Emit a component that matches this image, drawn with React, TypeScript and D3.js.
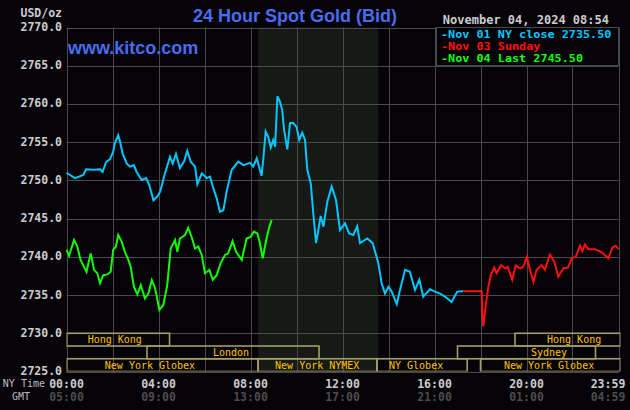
import React from 'react';
import * as d3 from 'd3';

// hours since 00:00 NY time
const closeHours = [0, 0.37, 0.73, 0.85, 1.17, 1.46, 1.57, 1.72, 1.89, 2.03, 2.1, 2.25, 2.33, 2.44, 2.62, 2.76, 2.93, 3.05, 3.27, 3.46, 3.6, 3.78, 3.95, 4.07, 4.28, 4.5, 4.62, 4.76, 4.93, 5.11, 5.25, 5.4, 5.59, 5.69, 5.88, 6.1, 6.24, 6.38, 6.53, 6.67, 6.82, 6.96, 7.18, 7.47, 7.69, 7.98, 8.12, 8.27, 8.48, 8.56, 8.66, 8.77, 8.88, 8.99, 9.07, 9.17, 9.28, 9.38, 9.46, 9.6, 9.72, 9.86, 10.0, 10.12, 10.25, 10.37, 10.47, 10.62, 10.73, 10.85, 10.95, 11.05, 11.17, 11.34, 11.53, 11.72, 11.89, 12.11, 12.28, 12.47, 12.64, 12.76, 13.08, 13.31, 13.56, 13.7, 13.85, 14.0, 14.14, 14.36, 14.5, 14.72, 14.93, 15.15, 15.34, 15.51, 15.8, 16.02, 16.24, 16.45, 16.74, 16.99, 17.25];
const closeValues = [2751.0, 2750.3, 2750.7, 2751.45, 2751.4, 2751.45, 2751.1, 2752.4, 2752.75, 2753.75, 2754.85, 2755.9, 2755.05, 2753.5, 2752.2, 2751.8, 2752.0, 2751.1, 2750.05, 2750.3, 2749.4, 2747.4, 2747.9, 2748.5, 2750.9, 2753.1, 2752.2, 2753.45, 2751.6, 2752.45, 2753.85, 2752.45, 2751.8, 2749.5, 2750.9, 2750.3, 2750.5, 2749.0, 2747.65, 2745.9, 2746.1, 2748.5, 2751.35, 2752.45, 2752.0, 2752.3, 2751.8, 2752.9, 2750.6, 2752.9, 2756.4, 2755.7, 2754.3, 2755.3, 2754.4, 2761.0, 2760.3, 2759.2, 2756.6, 2754.05, 2757.5, 2757.5, 2757.0, 2755.3, 2756.25, 2755.3, 2751.35, 2749.6, 2745.7, 2741.8, 2743.5, 2745.35, 2743.95, 2747.2, 2749.2, 2747.4, 2743.5, 2744.4, 2743.1, 2742.85, 2744.0, 2741.8, 2742.4, 2741.8, 2739.15, 2736.55, 2735.2, 2736.1, 2735.45, 2733.8, 2735.65, 2738.3, 2738.05, 2735.65, 2737.0, 2734.8, 2735.75, 2735.45, 2735.2, 2734.8, 2734.1, 2735.45, 2735.5];

const sundayHours = [17.25, 18.05, 18.08, 18.12, 18.23, 18.34, 18.46, 18.6, 18.7, 18.89, 19.07, 19.18, 19.38, 19.53, 19.72, 19.86, 20.02, 20.15, 20.3, 20.44, 20.66, 20.8, 21.02, 21.21, 21.38, 21.6, 21.8, 21.97, 22.14, 22.33, 22.43, 22.54, 22.69, 22.98, 23.27, 23.56, 23.73, 23.88, 24];
const sundayValues = [2735.5, 2735.5, 2732.4, 2730.9, 2733.7, 2736.1, 2737.7, 2738.6, 2737.85, 2738.9, 2738.5, 2738.7, 2737.0, 2738.85, 2738.5, 2738.7, 2740.0, 2738.3, 2736.75, 2738.3, 2738.9, 2738.3, 2740.3, 2739.35, 2737.4, 2738.5, 2738.6, 2739.8, 2740.0, 2741.45, 2740.75, 2741.6, 2741.0, 2741.0, 2740.6, 2739.8, 2741.2, 2741.45, 2741.0];

const lastHours = [0, 0.11, 0.33, 0.47, 0.61, 0.76, 0.87, 1.05, 1.2, 1.34, 1.46, 1.6, 1.77, 1.92, 2.03, 2.15, 2.25, 2.4, 2.54, 2.69, 2.79, 2.93, 3.08, 3.23, 3.41, 3.56, 3.71, 3.85, 4.04, 4.21, 4.38, 4.53, 4.72, 4.82, 4.93, 5.15, 5.29, 5.44, 5.59, 5.73, 5.88, 6.02, 6.21, 6.36, 6.53, 6.7, 6.89, 7.03, 7.22, 7.37, 7.62, 7.83, 8.0, 8.15, 8.3, 8.41, 8.53, 8.67, 8.82, 8.92];
const lastValues = [2740.9, 2740.15, 2742.2, 2741.35, 2739.6, 2738.7, 2738.05, 2740.45, 2738.3, 2737.85, 2736.55, 2737.6, 2737.7, 2738.05, 2740.9, 2741.35, 2742.85, 2742.0, 2740.65, 2739.6, 2738.7, 2736.1, 2735.1, 2736.3, 2734.55, 2735.2, 2736.95, 2735.9, 2733.05, 2733.7, 2736.3, 2741.1, 2742.2, 2740.65, 2742.4, 2742.85, 2743.8, 2742.6, 2741.1, 2741.35, 2740.25, 2737.85, 2738.3, 2737.0, 2737.6, 2739.15, 2740.25, 2740.45, 2742.05, 2740.65, 2739.6, 2742.4, 2742.6, 2743.3, 2743.05, 2741.8, 2739.8, 2742.0, 2743.95, 2744.8];

const yTicks = [2725, 2730, 2735, 2740, 2745, 2750, 2755, 2760, 2765, 2770];
const gridHours = [0, 2, 4, 6, 8, 10, 12, 14, 16, 18, 20, 22, 24];
const tickHours = [0, 4, 8, 12, 16, 20, 24];
const nyLabels = ['00:00', '04:00', '08:00', '12:00', '16:00', '20:00', '23:59'];
const gmtLabels = ['05:00', '09:00', '13:00', '17:00', '21:00', '01:00', '04:59'];

const sessionNames = ['Hong Kong', 'London', 'New York Globex', 'New York NYMEX', 'NY Globex', 'New York Globex', 'Hong Kong', 'Sydney'];
const sessionRows = [0, 1, 2, 2, 2, 2, 0, 1];
const sessionStart = [0, 3.5, 0, 8.33, 13.5, 18.0, 19.5, 17.0];
const sessionEnd = [4.48, 10.98, 8.33, 13.5, 17.42, 24.1, 24.1, 23.0];
const sessionLabelAt = [2.1, 7.15, 3.63, 10.9, 15.2, 20.98, 22.07, 20.98];

const nymexHours = [8.33, 13.55];

const legendTexts = ['-Nov 01 NY close 2735.50', '-Nov 03 Sunday', '-Nov 04 Last 2745.50'];
const legendColors = ['#00c8ff', '#ff1010', '#10ff00'];

const W = 630, H = 410;
const margin = { left: 66.5, right: 11.5, top: 27.5, bottom: 38.5 };

const mono = '"DejaVu Sans Mono", monospace';

export default function App() {
  const x = d3.scaleLinear().domain([0, 24]).range([margin.left, W - margin.right]);
  const y = d3.scaleLinear().domain([2725, 2770]).range([H - margin.bottom, margin.top]);

  const line = d3.line<[number, number]>()
    .x(d => x(d[0]))
    .y(d => y(d[1]));

  const closePath = line(closeHours.map((h, i) => [h, closeValues[i]]));
  const sundayPath = line(sundayHours.map((h, i) => [h, sundayValues[i]]));
  const lastPath = line(lastHours.map((h, i) => [h, lastValues[i]]));

  const rowH = (y(2725) - y(2730)) / 3;
  const boxColor = '#a39d68';

  // last tick label is pushed left so it stays inside the picture
  const tickX = (h: number) => Math.min(x(h), W - 22);

  return (
    <svg width={W} height={H} style={{ position: 'fixed', left: 0, top: 0, background: '#050308' }}>
      <defs>
        <clipPath id="plot">
          <rect x={x(0)} y={y(2770)} width={x(24) - x(0) + 2} height={y(2725) - y(2770)} />
        </clipPath>
      </defs>
      <rect x={0} y={0} width={W} height={H} fill="#050308" />
      {/* NYMEX hours shading */}
      <rect x={x(nymexHours[0])} y={y(2770)} width={x(nymexHours[1]) - x(nymexHours[0])}
        height={y(2725) - y(2770)} fill="#161916" />

      {/* grid */}
      {yTicks.map(t => (
        <line key={'h' + t} x1={x(0)} x2={x(24)} y1={Math.round(y(t)) + 0.5} y2={Math.round(y(t)) + 0.5}
          stroke="#4a4a4a" strokeWidth={1} />
      ))}
      {gridHours.map(h => (
        <line key={'v' + h} x1={Math.round(x(h)) + 0.5} x2={Math.round(x(h)) + 0.5} y1={y(2770)} y2={y(2725)}
          stroke="#4a4a4a" strokeWidth={1} />
      ))}

      {/* market sessions */}
      <g clipPath="url(#plot)">
        {sessionNames.map((name, i) => {
          const top = y(2730) + sessionRows[i] * rowH;
          return (
            <g key={'s' + i}>
              <rect x={x(sessionStart[i])} y={top} width={x(sessionEnd[i]) - x(sessionStart[i])} height={rowH}
                fill="none" stroke={boxColor} strokeWidth={1.6} />
              <text x={x(sessionLabelAt[i])} y={top + rowH / 2 + 0.5} fill="#ffc400" fontFamily={mono}
                fontSize={10} textAnchor="middle" dominantBaseline="middle">{name}</text>
            </g>
          );
        })}
      </g>

      {/* price lines */}
      <path d={closePath || ''} fill="none" stroke={legendColors[0]} strokeWidth={2} />
      <path d={sundayPath || ''} fill="none" stroke={legendColors[1]} strokeWidth={2} />
      <path d={lastPath || ''} fill="none" stroke={legendColors[2]} strokeWidth={2} />

      {/* y axis labels */}
      <text x={62} y={13} fill="#cccccc" fontFamily={mono} fontWeight="bold" fontSize={11.5}
        textAnchor="end" dominantBaseline="middle">USD/oz</text>
      {yTicks.map(t => (
        <text key={'yl' + t} x={62} y={y(t)} fill="#cccccc" fontFamily={mono} fontWeight="bold" fontSize={11.5}
          textAnchor="end" dominantBaseline="middle">{t.toFixed(1)}</text>
      ))}

      {/* x axis labels */}
      <text x={45} y={384} fill="#bbbbbb" fontFamily={mono} fontSize={10} textAnchor="end"
        dominantBaseline="middle">NY Time</text>
      <text x={21} y={397} fill="#bbbbbb" fontFamily={mono} fontSize={10} textAnchor="middle"
        dominantBaseline="middle">GMT</text>
      {tickHours.map((h, i) => (
        <g key={'xl' + h}>
          <text x={tickX(h)} y={384} fill="#cccccc" fontFamily={mono} fontWeight="bold" fontSize={11.5}
            textAnchor="middle" dominantBaseline="middle">{nyLabels[i]}</text>
          <text x={tickX(h)} y={397} fill="#4c4c4c" fontFamily={mono} fontWeight="bold" fontSize={11.5}
            textAnchor="middle" dominantBaseline="middle">{gmtLabels[i]}</text>
        </g>
      ))}

      {/* title and site */}
      <text x={295} y={17} fill="#4a6cf0" fontFamily='"Liberation Sans", Arial, sans-serif' fontWeight="bold"
        fontSize={18} textAnchor="middle" dominantBaseline="middle">24 Hour Spot Gold (Bid)</text>
      <text x={68} y={49} fill="#4a6cf0" fontFamily='"Liberation Sans", Arial, sans-serif' fontWeight="bold"
        fontSize={18} dominantBaseline="middle">www.kitco.com</text>

      {/* date and legend */}
      <text x={609} y={20} fill="#cccccc" fontFamily={mono} fontWeight="bold" fontSize={12}
        textAnchor="end" dominantBaseline="middle">November 04, 2024 08:54</text>
      <rect x={436.5} y={27.5} width={182} height={38} fill="#050308" stroke="#4a4a4a" strokeWidth={1} />
      {legendTexts.map((t, i) => (
        <text key={'lg' + i} x={441} y={34.5 + i * 12} fill={legendColors[i]} fontFamily={mono} fontWeight="bold"
          fontSize={10.2} textLength={t.length * 7.1} lengthAdjust="spacingAndGlyphs"
          dominantBaseline="middle">{t}</text>
      ))}
    </svg>
  );
}
